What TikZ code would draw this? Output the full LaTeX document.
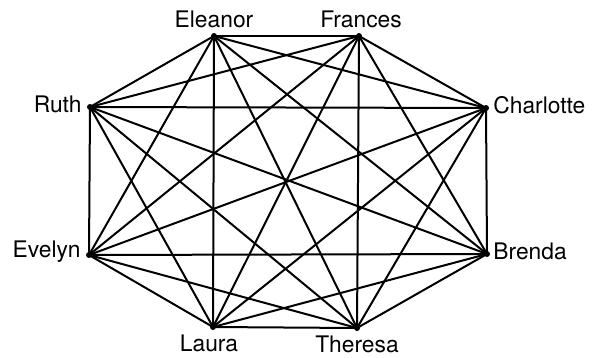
\documentclass[tikz,border=0pt]{standalone}
\usepackage{fontspec}
\setmainfont{TeX Gyre Heros}
\usepackage{tikz}
\usetikzlibrary{positioning}
\tikzset{
  person/.style={circle, fill=black, inner sep=0pt, minimum size=6pt},
  namelabel/.style={font=\fontsize{22.8}{27}\selectfont, inner sep=0pt, text=black},
  edge/.style={line width=2pt, line cap=round, color=black}
}

\begin{document}
\begin{tikzpicture}[x=1pt, y=-1pt]

  \useasboundingbox (0,0) rectangle (596,357);

  %% ── People ─────────────────────────────────────────────────────────────
  \node[person, label={[namelabel, label distance=5pt]above:Eleanor}] (eleanor) at (214,36) {};
  \node[person, label={[namelabel, label distance=5pt, xshift=2pt]above:Frances}] (frances) at (359,36) {};
  \node[person, label={[namelabel, label distance=5pt, yshift=3pt]left:Ruth}] (ruth) at (90,107) {};
  \node[person, label={[namelabel, label distance=4pt, yshift=3pt]right:Charlotte}] (charlotte) at (486,108) {};
  \node[person, label={[namelabel, label distance=5pt, yshift=3pt]left:Evelyn}] (evelyn) at (89,255) {};
  \node[person, label={[namelabel, label distance=3pt, yshift=3pt]right:Brenda}] (brenda) at (487,254) {};
  \node[person, label={[namelabel, label distance=4pt, xshift=-4pt]below:Laura}] (laura) at (213,327) {};
  \node[person, label={[namelabel, label distance=4pt]below:Theresa}] (theresa) at (357,328) {};

  %% ── Ties (every pair) ──────────────────────────────────────────────────
  \foreach \a [count=\i] in {eleanor,frances,charlotte,brenda,theresa,laura,evelyn,ruth} {
    \foreach \b [count=\j] in {eleanor,frances,charlotte,brenda,theresa,laura,evelyn,ruth} {
      \ifnum\j>\i \draw[edge] (\a.center) -- (\b.center); \fi
    }
  }

\end{tikzpicture}
\end{document}
